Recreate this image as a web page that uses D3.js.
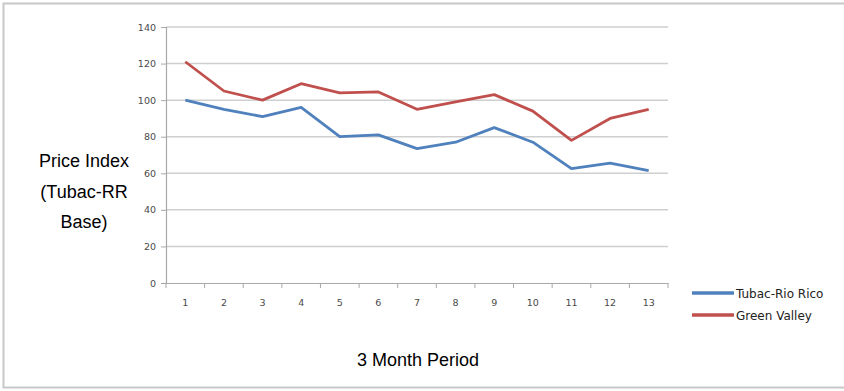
<!DOCTYPE html>
<html><head><meta charset="utf-8">
<script src="https://cdn.jsdelivr.net/npm/d3@7"></script>
<style>body{margin:0;background:#fff}svg{display:block}</style>
</head><body>
<svg id="c" width="844" height="391"></svg>
<script>
const periods = ["1","2","3","4","5","6","7","8","9","10","11","12","13"];
const tubacRioRico = [100,95,91,96,80,81,73.5,77,85,77,62.5,65.5,61.5];
const greenValley = [121,105,100,109,104,104.5,95,99,103,94,78,90,95];
const yTicks = [0,20,40,60,80,100,120,140];
const seriesNames = ["Tubac-Rio Rico","Green Valley"];
const seriesColors = ["#4F81BD","#C0504D"];

const svg = d3.select("#c");
svg.append("rect").attr("x",3.5).attr("y",3.5).attr("width",842).attr("height",384)
  .attr("fill","#fff").attr("stroke","#c8c8c8").attr("stroke-width",2);

const x = d3.scaleBand().domain(periods).range([166,668]);
const y = d3.scaleLinear().domain([0,140]).range([283,27]);

// gridlines
svg.append("g").selectAll("line").data(yTicks.filter(d=>d>0)).join("line")
  .attr("x1",166).attr("x2",668).attr("y1",d=>y(d)).attr("y2",d=>y(d))
  .attr("stroke","#cfcfcf").attr("stroke-width",1.5);

// y axis
const ya = svg.append("g").attr("transform","translate(166,0)")
  .call(d3.axisLeft(y).tickValues(yTicks).tickSize(5).tickPadding(5));
ya.select(".domain").attr("stroke","#a8a8a8").attr("stroke-width",1.2);
ya.selectAll(".tick line").attr("stroke","#a8a8a8");
ya.selectAll("text").attr("font-family","DejaVu Sans").attr("font-size",9.5).attr("fill","#4a4a4a");

// x axis
const xa = svg.append("g").attr("transform","translate(0,283)")
  .call(d3.axisBottom(x).tickSize(0).tickPadding(16));
xa.select(".domain").attr("stroke","#a8a8a8").attr("stroke-width",1.2);
xa.selectAll("text").attr("font-family","DejaVu Sans").attr("font-size",9.5).attr("fill","#4a4a4a");
svg.append("g").selectAll("line").data(d3.range(periods.length+1)).join("line")
  .attr("x1",i=>166+i*x.bandwidth()).attr("x2",i=>166+i*x.bandwidth())
  .attr("y1",283).attr("y2",288).attr("stroke","#a8a8a8");

// lines
const line = d3.line().x((d,i)=>x(periods[i])+x.bandwidth()/2).y(d=>y(d));
[tubacRioRico, greenValley].forEach((s,k)=>{
  svg.append("path").datum(s).attr("d",line).attr("fill","none")
    .attr("stroke",seriesColors[k]).attr("stroke-width",2.8).attr("stroke-linejoin","round");
});

// axis titles
const yt = svg.append("text").attr("font-family","Liberation Sans, Arial").attr("font-size",18)
  .attr("fill","#000").attr("text-anchor","middle");
["Price Index","(Tubac-RR","Base)"].forEach((t,i)=>{
  yt.append("tspan").attr("x",84).attr("y",167+i*30.5).text(t);
});
svg.append("text").attr("x",418).attr("y",366).attr("text-anchor","middle")
  .attr("font-family","Liberation Sans, Arial").attr("font-size",18).attr("fill","#000").text("3 Month Period");

// legend
const lg = svg.append("g");
seriesNames.forEach((n,i)=>{
  const yy = 293 + i*22;
  lg.append("line").attr("x1",692).attr("x2",734).attr("y1",yy).attr("y2",yy)
    .attr("stroke",seriesColors[i]).attr("stroke-width",3.5);
  lg.append("text").attr("x",736).attr("y",yy+4.5).attr("font-family","DejaVu Sans")
    .attr("font-size",12).attr("fill","#222").text(n);
});
</script>
</body></html>
